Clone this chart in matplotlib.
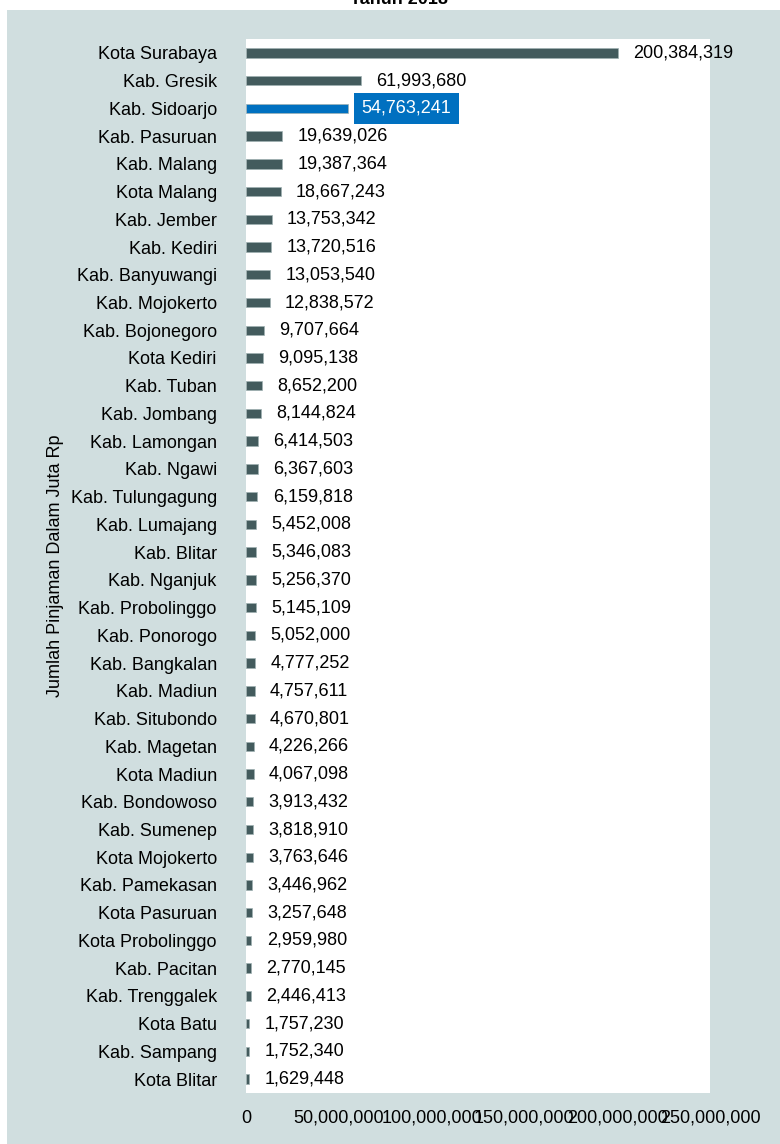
import numpy as np
import matplotlib.pyplot as plt
from matplotlib.patches import Rectangle
from matplotlib.ticker import FuncFormatter

plt.rcParams['font.family'] = ['Liberation Sans Narrow', 'Liberation Sans', 'DejaVu Sans']

# Pinjaman per kabupaten/kota (juta Rp), urut dari terbesar
daerah = [
    'Kota Surabaya', 'Kab. Gresik', 'Kab. Sidoarjo', 'Kab. Pasuruan', 'Kab. Malang',
    'Kota Malang', 'Kab. Jember', 'Kab. Kediri', 'Kab. Banyuwangi', 'Kab. Mojokerto',
    'Kab. Bojonegoro', 'Kota Kediri', 'Kab. Tuban', 'Kab. Jombang', 'Kab. Lamongan',
    'Kab. Ngawi', 'Kab. Tulungagung', 'Kab. Lumajang', 'Kab. Blitar', 'Kab. Nganjuk',
    'Kab. Probolinggo', 'Kab. Ponorogo', 'Kab. Bangkalan', 'Kab. Madiun', 'Kab. Situbondo',
    'Kab. Magetan', 'Kota Madiun', 'Kab. Bondowoso', 'Kab. Sumenep', 'Kota Mojokerto',
    'Kab. Pamekasan', 'Kota Pasuruan', 'Kota Probolinggo', 'Kab. Pacitan', 'Kab. Trenggalek',
    'Kota Batu', 'Kab. Sampang', 'Kota Blitar',
]
pinjaman = [
    200384319, 61993680, 54763241, 19639026, 19387364,
    18667243, 13753342, 13720516, 13053540, 12838572,
    9707664, 9095138, 8652200, 8144824, 6414503,
    6367603, 6159818, 5452008, 5346083, 5256370,
    5145109, 5052000, 4777252, 4757611, 4670801,
    4226266, 4067098, 3913432, 3818910, 3763646,
    3446962, 3257648, 2959980, 2770145, 2446413,
    1757230, 1752340, 1629448,
]
sorot = 'Kab. Sidoarjo'
xticks = [0, 50000000, 100000000, 150000000, 200000000, 250000000]

W, H = 780, 1144
fig = plt.figure(figsize=(W / 100, H / 100), dpi=100, facecolor='white')

# panel abu-abu di belakang grafik
fig.patches.append(Rectangle((7 / W, 0), 1 - 7 / W, 1 - 10 / H,
                             transform=fig.transFigure, facecolor='#d0dedf',
                             edgecolor='none', zorder=-5))
fig.text(0.512, 1 - 4 / H, 'Tahun 2018', ha='center', va='baseline',
         fontsize=13, fontweight='bold', family=['Liberation Sans', 'DejaVu Sans'])

ax = fig.add_axes([246 / W, 1 - 1093 / H, (710 - 246) / W, (1093 - 39) / H])
ax.set_zorder(2)
ax.set_facecolor('white')

y = np.arange(len(daerah))
warna = ['#0070c0' if d == sorot else '#435b5d' for d in daerah]
ax.barh(y, pinjaman, height=0.34, color=warna, edgecolor='#9fb1b2', linewidth=0.5)

for yi, d, v in zip(y, daerah, pinjaman):
    teks = f'{v:,}'
    if d == sorot:
        ax.annotate(teks, (v, yi), xytext=(10, 0), textcoords='offset points',
                    ha='left', va='center', fontsize=13, color='white',
                    bbox=dict(boxstyle='square,pad=0.4', facecolor='#0070c0', edgecolor='none'))
    else:
        ax.annotate(teks, (v, yi), xytext=(11, 0), textcoords='offset points',
                    ha='left', va='center', fontsize=13, color='black')

ax.set_xlim(0, 250000000)
ax.set_ylim(len(daerah) - 0.5, -0.5)
ax.set_yticks(y)
ax.set_yticklabels(daerah, fontsize=13)
ax.set_xticks(xticks)
ax.xaxis.set_major_formatter(FuncFormatter(lambda v, p: f'{int(v):,}'))
ax.tick_params(axis='x', labelsize=13, length=0, pad=12)
ax.tick_params(axis='y', length=0, pad=21)
for s in ax.spines.values():
    s.set_visible(False)

ax.set_ylabel('Jumlah Pinjaman Dalam Juta Rp', fontsize=13)
ax.yaxis.set_label_coords(-0.393, 0.5)

fig.savefig('out.png', dpi=100, facecolor=fig.get_facecolor())
